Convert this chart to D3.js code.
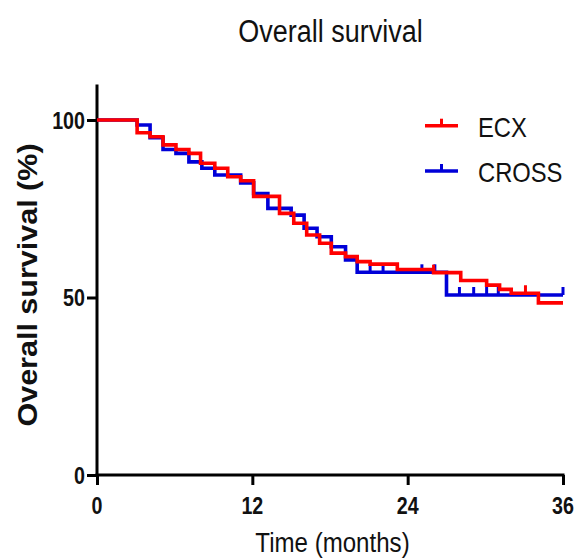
<!DOCTYPE html>
<html>
<head>
<meta charset="utf-8">
<script src="https://cdn.jsdelivr.net/npm/d3@7"></script>
<style>
  body { margin: 0; background: #fff; }
  svg { display: block; font-family: "Liberation Sans", Arial, sans-serif; }
</style>
</head>
<body>
<svg id="chart" width="578" height="559"></svg>
<script>
// months / survival % (step after each time)
const ecxTimes = [0, 3.1, 4.1, 5.1, 6.1, 7.1, 8.0, 9.1, 10.1, 11.1, 12.1, 14.1, 15.2, 16.2, 17.2, 18.1, 19.2, 20.1, 21.1, 23.2, 26.0, 28.1, 30.1, 31.1, 32.0, 34.1, 36.0]
const ecxSurv  = [100, 96.4, 95.3, 93.0, 91.7, 90.6, 87.8, 86.4, 84.0, 82.9, 78.5, 73.7, 70.9, 67.6, 65.3, 62.5, 61.5, 60.1, 59.4, 57.9, 57.0, 54.8, 53.5, 52.3, 51.2, 48.5, 48.5]
const ecxCensor = [26.0, 33.1]

const crossTimes = [0, 3.1, 4.1, 5.1, 6.1, 7.1, 8.1, 9.1, 11.1, 12.1, 13.2, 15.0, 16.0, 17.0, 18.1, 19.2, 20.1, 27.0, 36.0]
const crossSurv  = [100, 98.6, 95.0, 91.7, 90.6, 88.2, 86.4, 84.5, 82.3, 79.3, 75.1, 73.2, 69.5, 67.1, 64.3, 60.6, 57.1, 50.7, 50.7]
const crossCensor = [21.1, 22.1, 25.1, 26.1, 28.0, 29.1, 30.1, 31.0, 36.0]

const xTicks = [0, 12, 24, 36]
const yTicks = [0, 50, 100]
const seriesNames = ["ECX", "CROSS"]
const seriesColors = ["#ff0000", "#0000d8"]

const svg = d3.select("#chart")
const x = d3.scaleLinear().domain([0, 36]).range([97, 563])
const y = d3.scaleLinear().domain([0, 110]).range([475, 84.5])

// text in the picture is narrow (image was squeezed sideways)
function label(txt, px, py, size, weight, anchor, sx, rot) {
  return svg.append("text")
    .attr("transform", `translate(${px},${py}) rotate(${rot || 0}) scale(${sx},1)`)
    .attr("text-anchor", anchor)
    .attr("font-size", size)
    .attr("font-weight", weight)
    .attr("fill", "#111")
    .text(txt)
}

label("Overall survival", 330.5, 41.7, 31, "normal", "middle", 0.87)
label("Time (months)", 332.5, 551.5, 28, "normal", "middle", 0.86)
label("Overall survival (%)", 37, 285, 28, "bold", "middle", 1.09, -90)

// axes
const yAxis = svg.append("g").attr("transform", "translate(97,0)")
  .call(d3.axisLeft(y).tickValues(yTicks).tickSize(10).tickSizeOuter(0).tickFormat(""))
const xAxis = svg.append("g").attr("transform", "translate(0,475)")
  .call(d3.axisBottom(x).tickValues(xTicks).tickSize(10).tickSizeOuter(0).tickFormat(""))
svg.selectAll(".domain, .tick line").attr("stroke", "#000").attr("stroke-width", 3)
yAxis.select(".domain").attr("d", `M0,${y(110)}V${y(0) + 1.5}`)
xAxis.select(".domain").attr("d", `M${x(0) - 1.5},0H${x(36) + 1.5}`)

yTicks.forEach(v => label(v, 85, y(v) + 8.5, 24, "bold", "end", 0.82))
xTicks.forEach(v => label(v, x(v), 514, 24, "bold", "middle", 0.82))

// survival curves
const line = d3.line().x(d => x(d[0])).y(d => y(d[1])).curve(d3.curveStepAfter)
const series = [
  { times: crossTimes, surv: crossSurv, cens: crossCensor, color: seriesColors[1] },
  { times: ecxTimes, surv: ecxSurv, cens: ecxCensor, color: seriesColors[0] }
]
series.forEach(s => {
  const pts = s.times.map((t, i) => [t, s.surv[i]])
  svg.append("path")
    .attr("d", line(pts))
    .attr("fill", "none")
    .attr("stroke", s.color)
    .attr("stroke-width", 3.6)
  const level = t => s.surv[d3.bisectRight(s.times, t) - 1]
  svg.append("g").selectAll("line")
    .data(s.cens).enter().append("line")
      .attr("x1", d => x(d)).attr("x2", d => x(d))
      .attr("y1", d => y(level(d))).attr("y2", d => y(level(d)) - 8)
      .attr("stroke", s.color)
      .attr("stroke-width", 3)
})

// legend
seriesNames.forEach((name, i) => {
  const ly = 125.7 + i * 45.3
  const g = svg.append("g")
  g.append("line").attr("x1", 425).attr("x2", 458).attr("y1", ly).attr("y2", ly)
    .attr("stroke", seriesColors[i]).attr("stroke-width", 3.6)
  g.append("line").attr("x1", 441.5).attr("x2", 441.5).attr("y1", ly).attr("y2", ly - 7)
    .attr("stroke", seriesColors[i]).attr("stroke-width", 3)
  label(name, 478, ly + 11, 27, "normal", "start", 0.88)
})
</script>
</body>
</html>
